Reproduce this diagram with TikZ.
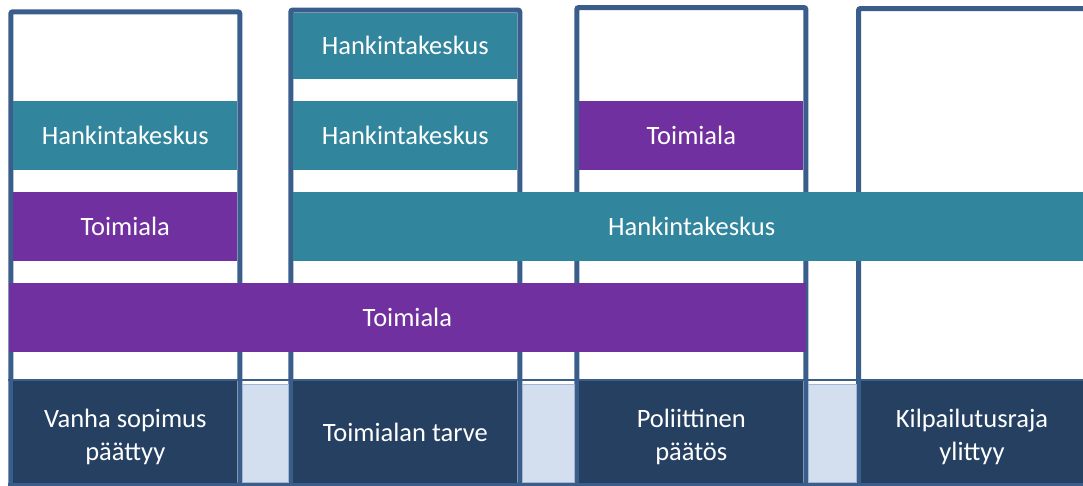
\documentclass[tikz,border=0pt]{standalone}
\usepackage{fontspec}
\setmainfont{Carlito}
\definecolor{framecol}{HTML}{3A5E8C}
\definecolor{tealbar}{HTML}{31859C}
\definecolor{purplebar}{HTML}{7030A0}
\definecolor{navybox}{HTML}{254061}
\definecolor{paleblue}{HTML}{D3DEEF}
\definecolor{paleedge}{HTML}{A3B7D3}
\tikzset{
  colframe/.style={draw=framecol, line width=5pt, rounded corners=2pt},
  bar/.style={rectangle, inner sep=0pt, outer sep=0pt, text=white,
    font=\fontsize{26.5}{33}\selectfont, align=center},
  hkbar/.style={bar, fill=tealbar},
  tmbar/.style={bar, fill=purplebar},
  eventbox/.style={rectangle, inner sep=0pt, outer sep=0pt, fill=navybox,
    minimum width=224pt, minimum height=101.7pt},
  eventtext/.style={bar},
  gapbox/.style={rectangle, inner sep=0pt, outer sep=0pt, fill=paleblue,
    draw=paleedge, line width=0.8pt, minimum height=98.7pt},
  rowline/.style={draw=framecol, line width=1.7pt},
}
\begin{document}
\begin{tikzpicture}[x=1pt, y=-1pt]
  \useasboundingbox (0,0) rectangle (1083,485);
  \clip (0,0) rectangle (1083,485);
  \fill[white] (0,0) rectangle (1083,485);

  % column frames
  \draw[colframe] (10.8,11.8) rectangle (239.8,485.2);
  \draw[colframe] (290.8,10) rectangle (519.8,485.2);
  \draw[colframe] (576.8,7.5) rectangle (805.8,485.2);
  \draw[colframe] (858.5,8.5) rectangle (1100,485.2);

  % bars inside single columns
  \node[hkbar, minimum width=224pt, minimum height=69pt] (c1hk) at (125.3,135) {Hankintakeskus};
  \node[tmbar, minimum width=224pt, minimum height=68.5pt] (c1tm) at (125.3,226.25) {Toimiala};
  \node[hkbar, minimum width=224pt, minimum height=66.5pt] (c2hktop) at (405.3,45.75) {Hankintakeskus};
  \node[hkbar, minimum width=224pt, minimum height=69pt] (c2hk) at (405.3,135) {Hankintakeskus};
  \node[tmbar, minimum width=224pt, minimum height=69pt] (c3tm) at (691.3,135) {Toimiala};

  % bars spanning several columns
  \node[hkbar, minimum width=796.7pt, minimum height=68.5pt] (widehk) at (691.65,226.25) {Hankintakeskus};
  \node[tmbar, minimum width=796.7pt, minimum height=69.5pt] (widetm) at (407.35,317.25) {Toimiala};

  % row separators
  \draw[rowline] (8,379.8) -- (1083,379.8);
  \draw[framecol, line width=2.6pt] (8,484.2) -- (1083,484.2);

  % event boxes
  \node[eventbox] (ev1) at (125.3,431.85) {};
  \node[eventbox] (ev2) at (405.3,431.85) {};
  \node[eventbox] (ev3) at (691.3,431.85) {};
  \node[eventbox, minimum width=222pt] (ev4) at (972,431.85) {};
  \node[eventtext] (ev1txt) at ([yshift=-5pt]ev1.center) {Vanha sopimus\\päättyy};
  \node[eventtext] (ev2txt) at ([yshift=-1pt]ev2.center) {Toimialan tarve};
  \node[eventtext] (ev3txt) at ([yshift=-5pt]ev3.center) {Poliittinen\\päätös};
  \node[eventtext] (ev4txt) at ([yshift=-5pt]ev4.center) {Kilpailutusraja\\ylittyy};

  % gaps between the event boxes
  \node[gapbox, minimum width=46pt] (gap1) at (265.3,433.35) {};
  \node[gapbox, minimum width=52pt] (gap2) at (548.3,433.35) {};
  \node[gapbox, minimum width=47.7pt] (gap3) at (832.15,433.35) {};
\end{tikzpicture}
\end{document}
